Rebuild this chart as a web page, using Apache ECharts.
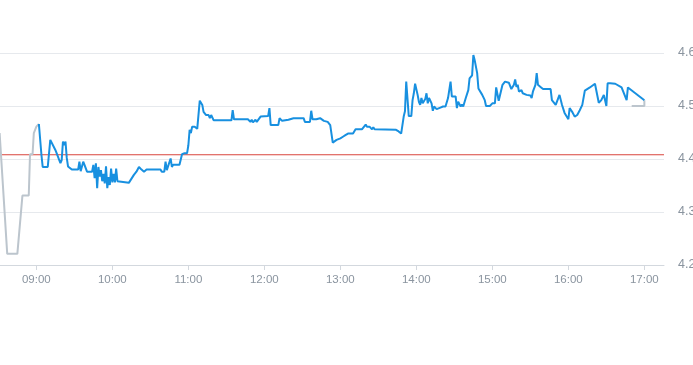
<!DOCTYPE html>
<html>
<head>
<meta charset="utf-8">
<script src="https://cdn.jsdelivr.net/npm/echarts@6/dist/echarts.min.js"></script>
<style>
html,body{margin:0;padding:0;background:#fff;overflow:hidden;}
#chart{width:693px;height:365px;}
</style>
</head>
<body>
<div id="chart"></div>
<script>
// ---- data ----
const tickLabels = ['09:00','10:00','11:00','12:00','13:00','14:00','15:00','16:00','17:00'];
const yTicks = [4.2, 4.3, 4.4, 4.5, 4.6];
const prevClose = 4.408;

const mainTimes = ['09:02','09:04','09:05','09:09','09:11','09:12','09:15','09:16','09:19','09:20','09:21','09:22','09:23','09:24','09:25','09:28','09:33','09:34','09:35','09:37','09:38','09:40','09:44','09:45','09:46','09:47','09:48','09:49','09:50','09:51','09:52','09:53','09:54','09:55','09:56','09:57','09:58','09:59','10:00','10:01','10:02','10:03','10:04','10:05','10:13','10:17','10:19','10:21','10:23','10:25','10:27','10:38','10:39','10:41','10:42','10:43','10:44','10:46','10:47','10:48','10:53','10:55','10:56','10:57','10:59','11:00','11:01','11:02','11:03','11:05','11:07','11:08','11:09','11:11','11:12','11:14','11:16','11:17','11:18','11:20','11:34','11:35','11:36','11:47','11:49','11:50','11:51','11:53','11:54','11:57','12:03','12:04','12:05','12:11','12:12','12:14','12:19','12:23','12:31','12:32','12:36','12:37','12:38','12:41','12:44','12:47','12:50','12:52','12:54','12:57','12:58','13:00','13:01','13:02','13:04','13:05','13:06','13:10','13:12','13:17','13:20','13:21','13:22','13:23','13:25','13:26','13:27','13:44','13:46','13:47','13:48','13:50','13:51','13:52','13:54','13:56','13:57','13:58','13:59','14:00','14:01','14:02','14:03','14:04','14:05','14:07','14:08','14:09','14:10','14:12','14:13','14:14','14:16','14:19','14:21','14:23','14:25','14:27','14:28','14:31','14:32','14:33','14:35','14:36','14:37','14:39','14:41','14:42','14:44','14:45','14:46','14:48','14:49','14:52','14:53','14:54','14:55','14:58','15:00','15:02','15:03','15:05','15:06','15:08','15:10','15:13','15:15','15:17','15:18','15:19','15:20','15:21','15:23','15:24','15:27','15:30','15:31','15:32','15:34','15:35','15:36','15:38','15:40','15:46','15:47','15:50','15:51','15:53','15:54','15:55','15:57','15:58','16:00','16:01','16:03','16:05','16:07','16:09','16:11','16:13','16:17','16:21','16:24','16:26','16:28','16:30','16:31','16:33','16:34','16:37','16:42','16:46','16:47','17:00'];
const mainValues = [4.466,4.408,4.385,4.385,4.436,4.434,4.417,4.411,4.392,4.398,4.433,4.426,4.433,4.402,4.386,4.380,4.380,4.395,4.377,4.395,4.389,4.376,4.376,4.389,4.364,4.392,4.345,4.385,4.367,4.379,4.358,4.372,4.354,4.386,4.345,4.366,4.351,4.382,4.356,4.372,4.356,4.382,4.358,4.355,4.355,4.370,4.376,4.385,4.380,4.376,4.380,4.380,4.376,4.376,4.395,4.379,4.379,4.401,4.385,4.389,4.389,4.409,4.406,4.411,4.411,4.426,4.455,4.449,4.461,4.461,4.457,4.455,4.510,4.502,4.489,4.483,4.483,4.477,4.483,4.473,4.473,4.492,4.475,4.475,4.470,4.474,4.469,4.474,4.470,4.480,4.481,4.496,4.464,4.464,4.477,4.472,4.474,4.477,4.477,4.470,4.470,4.491,4.475,4.475,4.477,4.472,4.470,4.464,4.431,4.436,4.435,4.439,4.436,4.442,4.445,4.445,4.448,4.448,4.456,4.456,4.465,4.461,4.458,4.461,4.456,4.460,4.456,4.455,4.452,4.455,4.448,4.480,4.490,4.546,4.481,4.481,4.511,4.524,4.542,4.540,4.521,4.508,4.502,4.515,4.505,4.513,4.524,4.505,4.515,4.505,4.491,4.499,4.494,4.497,4.499,4.499,4.515,4.546,4.518,4.518,4.496,4.508,4.499,4.503,4.499,4.515,4.530,4.552,4.558,4.596,4.587,4.562,4.533,4.521,4.518,4.511,4.500,4.500,4.505,4.505,4.535,4.510,4.511,4.540,4.546,4.544,4.532,4.540,4.550,4.536,4.540,4.527,4.530,4.524,4.521,4.520,4.515,4.527,4.540,4.562,4.540,4.536,4.532,4.532,4.511,4.502,4.499,4.521,4.524,4.502,4.487,4.486,4.475,4.496,4.489,4.480,4.483,4.492,4.502,4.529,4.535,4.542,4.506,4.511,4.521,4.500,4.543,4.543,4.546,4.542,4.535,4.511,4.535,4.511];

const preTimes = ['08:31','08:37','08:45','08:49','08:54','08:55','08:57','08:58','09:00','09:02'];
const preValues = [4.449,4.221,4.221,4.331,4.331,4.409,4.409,4.449,4.461,4.466];

const postTimes = ['16:50','17:00','17:00'];
const postValues = [4.500,4.500,4.511];

// ---- helpers ----
function toMin(s){const p=s.split(':');return (+p[0])*60+(+p[1]);}
function fmt(m){const h=Math.floor(m/60),mm=Math.round(m-h*60);return (h<10?'0':'')+h+':'+(mm<10?'0':'')+mm;}
function pairs(ts, vs){return ts.map((t,i)=>[toMin(t), vs[i]]);}

const tickValues = tickLabels.map(toMin);
const xMin = 511.3, xMax = 1035.5;
const redColor = '#d9453d';

const chart = echarts.init(document.getElementById('chart'), null, {renderer:'canvas'});
const labelColor = '#8a949f';
chart.setOption({
  animation:false,
  backgroundColor:'#ffffff',
  grid:{left:0,right:29,top:53,bottom:100,containLabel:false,outerBoundsMode:'none'},
  xAxis:{
    type:'value',
    min:xMin,
    max:xMax,
    axisLine:{show:true,onZero:false,lineStyle:{color:'#d3d8de',width:1}},
    axisTick:{show:true,length:5,lineStyle:{color:'#d3d8de'},customValues:tickValues},
    axisLabel:{color:labelColor,fontSize:11.5,fontFamily:'Liberation Sans, Arial, sans-serif',margin:9,customValues:tickValues,formatter:v=>fmt(v)},
    splitLine:{show:false}
  },
  yAxis:{
    type:'value',
    position:'right',
    min:4.2,max:4.6,interval:0.1,
    axisLine:{show:false},
    axisTick:{show:false},
    axisLabel:{color:labelColor,fontSize:12.5,fontFamily:'Liberation Sans, Arial, sans-serif',margin:14,formatter:v=>v.toFixed(1)},
    splitLine:{show:true,lineStyle:{color:'#e6e9ed',width:1}}
  },
  series:[
    {type:'line',data:[[xMin,prevClose],[xMax,prevClose]],showSymbol:false,symbol:'none',color:redColor,lineStyle:{color:redColor,width:1},z:1,silent:true},
    {type:'line',data:pairs(preTimes,preValues),showSymbol:false,symbol:'none',color:'#bcc5cd',lineStyle:{color:'#bcc5cd',width:2},z:2},
    {type:'line',data:pairs(postTimes,postValues),showSymbol:false,symbol:'none',color:'#bcc5cd',lineStyle:{color:'#bcc5cd',width:2},z:2},
    {type:'line',data:pairs(mainTimes,mainValues),showSymbol:false,symbol:'none',color:'#1890e0',lineStyle:{color:'#1890e0',width:2},z:3}
  ]
});
</script>
</body>
</html>
